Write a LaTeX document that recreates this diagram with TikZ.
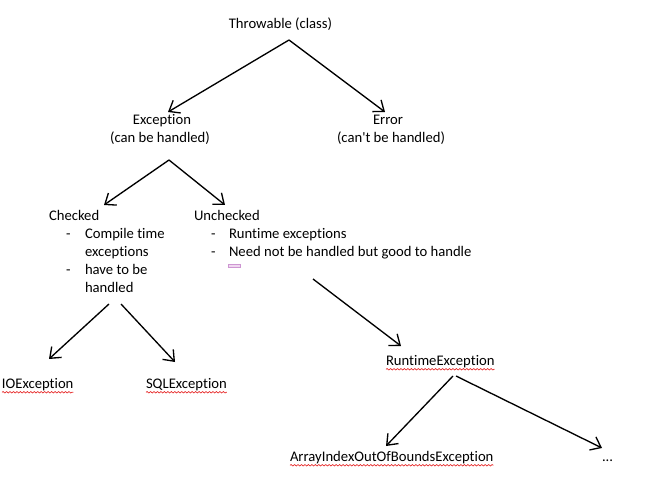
\documentclass[tikz,border=0pt]{standalone}
\usepackage{fontspec}
\setmainfont{Carlito}[Ligatures={TeXOff,CommonOff}]
\usetikzlibrary{arrows.meta,decorations.pathmorphing}
\tikzset{
  txt/.style={inner sep=0pt, outer sep=0pt, font=\fontsize{11pt}{13.5pt}\selectfont, text=black},
  arr/.style={-{Straight Barb[length=7pt,width=11pt,line width=1pt]}, line width=1pt, black},
  spell/.style={draw={rgb,255:red,230;green,40;blue,40}, line width=0.5pt, decorate, decoration={snake, amplitude=0.55pt, segment length=2.6pt}},
}
\begin{document}
\begin{tikzpicture}[x=0.75pt,y=-0.75pt]
\useasboundingbox (0,0) rectangle (663,491);
% level 0
\node[txt,anchor=base] (t) at (280.5,29) {Throwable (class)};
% level 1
\node[txt,anchor=base] (e) at (162,125) {Exception};
\node[txt,anchor=base] (e2) at (160,143) {(can be handled)};
\node[txt,anchor=base] (r) at (388,125) {Error};
\node[txt,anchor=base] (r2) at (391,143) {(can't be handled)};
% checked
\node[txt,anchor=base west] (c) at (49,221) {Checked};
\node[txt,anchor=base west] (cd1) at (66,239) {-};
\node[txt,anchor=base west] (c1) at (85,239) {Compile time};
\node[txt,anchor=base west] (c2) at (85,257) {exceptions};
\node[txt,anchor=base west] (cd2) at (66,275) {-};
\node[txt,anchor=base west] (c3) at (85,275) {have to be};
\node[txt,anchor=base west] (c4) at (85,293) {handled};
% unchecked
\node[txt,anchor=base west] (u) at (194,221) {Unchecked};
\node[txt,anchor=base west] (ud1) at (211,239) {-};
\node[txt,anchor=base west] (u1) at (229,239) {Runtime exceptions};
\node[txt,anchor=base west] (ud2) at (211,257) {-};
\node[txt,anchor=base west] (u2) at (229,257) {Need not be handled but good to handle};
\draw[draw={rgb,255:red,205;green,150;blue,210}, fill={rgb,255:red,240;green,215;blue,240}, line width=0.6pt] (228,264) rectangle (240,267.5);
% leaves
\node[txt,anchor=base west] (io) at (2,388) {IOException};
\node[txt,anchor=base west] (sql) at (146,388) {SQLException};
\node[txt,anchor=base west] (rt) at (386,365) {RuntimeException};
\node[txt,anchor=base west] (ai) at (290,461) {ArrayIndexOutOfBoundsException};
\node[txt,anchor=base west] (dots) at (602,461) {...};
% spelling marks
\foreach \n in {io,sql,rt,ai}{
  \draw[spell] ([yshift=-3.2pt]\n.base west) -- ([yshift=-3.2pt]\n.base east);
}
% connectors
\draw[arr] ([shift={(8.5,11)}]t.base) -- ([shift={(6,-13)}]e.base);
\draw[arr] ([shift={(8.5,11)}]t.base) -- ([shift={(-3,-13)}]r.base);
\draw[arr] ([shift={(9,17)}]e2.base) -- ([shift={(55,-16)}]c.base west);
\draw[arr] ([shift={(9,17)}]e2.base) -- ([shift={(31,-16)}]u.base west);
\draw[arr] ([shift={(24,11)}]c4.base west) -- ([shift={(47,-29)}]io.base west);
\draw[arr] ([shift={(36,11)}]c4.base west) -- ([shift={(29,-26)}]sql.base west);
\draw[arr] ([shift={(84,22)}]u2.base west) -- ([shift={(15,-19)}]rt.base west);
\draw[arr] ([shift={(67,11)}]rt.base west) -- ([shift={(96,-15)}]ai.base west);
\draw[arr] ([shift={(70,11)}]rt.base west) -- ([shift={(0,-13)}]dots.base west);
\end{tikzpicture}
\end{document}
